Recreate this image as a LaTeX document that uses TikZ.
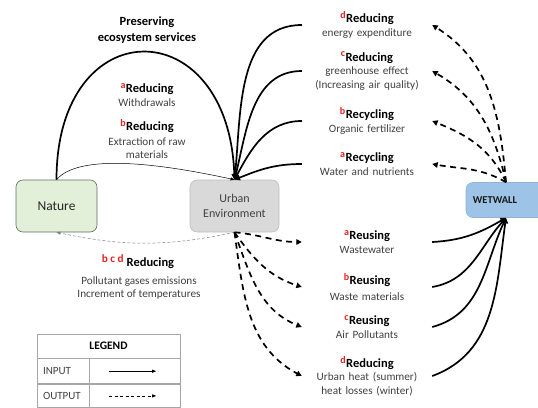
\documentclass[tikz,border=0pt]{standalone}
\usepackage{fontspec}
\setmainfont{Carlito}
\usetikzlibrary{arrows.meta}
\definecolor{natgreen}{HTML}{E2F0D9}
\definecolor{natedge}{HTML}{5E6E5E}
\definecolor{urbgray}{HTML}{D9D9D9}
\definecolor{urbedge}{HTML}{BFBFBF}
\definecolor{wetblue}{HTML}{9DC3E6}
\definecolor{wetedge}{HTML}{8EB4DA}
\definecolor{txtgray}{HTML}{404040}
\definecolor{letred}{HTML}{E8201E}
\newcommand{\head}[2]{{\color{black}\fontsize{12.5}{15}\selectfont\bfseries\textsuperscript{\color{letred}\fontsize{10}{10}\selectfont#1}#2}}
\begin{document}
\begin{tikzpicture}[x=1pt, y=-1pt,
    box/.style={draw, rounded corners=7pt, line width=0.6pt, inner sep=2pt, align=center, text=black!85},
    lbl/.style={inner sep=0pt, align=center, text=txtgray, font=\fontsize{11.2}{13.5}\selectfont},
    lblw/.style={lbl, text width=130pt},
    cell/.style={draw=gray!70, line width=0.7pt, inner sep=0pt, font=\fontsize{11}{13}\selectfont, text=txtgray},
    input/.style={line width=1.7pt, -{Triangle[length=5.5pt,width=5.5pt]}},
    output/.style={input, dash pattern=on 6pt off 4.5pt}]
  \useasboundingbox (0,0) rectangle (538,407);

  \node[box, fill=natgreen, draw=natedge, minimum width=81pt, minimum height=52pt,
    font=\fontsize{13.5}{15}\selectfont] (nature) at (56.5,206) {Nature};
  \node[box, fill=urbgray, draw=urbedge, minimum width=89pt, minimum height=52pt,
    font=\fontsize{12}{15}\selectfont, text=txtgray] (urban) at (234.5,206) {Urban\\Environment};
  \node[box, fill=wetblue, draw=wetedge, minimum width=80pt, minimum height=35pt,
    font=\fontsize{10.5}{12}\selectfont\bfseries, text=black!90] (wetwall) at (506,200) {\hspace*{-22pt}WETWALL};

  \node[lbl, font=\fontsize{12.5}{16}\selectfont\bfseries, text=black] (preserve) at (147,30) {Preserving\\ecosystem services};
  \node[lbl] (withdraw) at (147,95) {\head{a}{Reducing}\\Withdrawals};
  \node[lbl] (extract) at (147,139) {\head{b}{Reducing}\\[1pt]Extraction of raw\\materials};
  \node[lbl] (bcd) at (138,262) {{\color{letred}\bfseries\raisebox{4pt}{b c d}}\ \head{}{Reducing}};
  \node[lbl] (pollut) at (139,288) {Pollutant gases emissions\\Increment of temperatures};

  \node[lblw] (energy) at (367,25) {\head{d}{Reducing}\\energy expenditure};
  \node[lblw] (greenhouse) at (367,71) {\head{c}{Reducing}\\greenhouse effect\\(Increasing air quality)};
  \node[lblw] (fertilizer) at (367,121) {\head{b}{Recycling}\\Organic fertilizer};
  \node[lblw] (water) at (367,164) {\head{a}{Recycling}\\Water and nutrients};

  \node[lblw] (wastewater) at (367,242) {\head{a}{Reusing}\\Wastewater};
  \node[lblw] (wastemat) at (367,287) {\head{b}{Reusing}\\[2pt]Waste materials};
  \node[lblw] (airpoll) at (367,327) {\head{c}{Reusing}\\Air Pollutants};
  \node[lblw] (heat) at (367,376) {\head{d}{Reducing}\\Urban heat (summer)\\heat losses (winter)};

  \draw[input] (nature.north) to[out=90, in=92, looseness=2.45] (urban.north);
  \draw[line width=0.5pt, -{Triangle[length=4pt,width=3pt]}] (nature.north) to[out=50, in=168, looseness=0.6] (urban.north);
  \draw[line width=0.5pt, gray, densely dashed, -{Triangle[length=4pt,width=3pt]}] (urban.south) to[bend left=12] (nature.south);

  \foreach \lbl/\a in {energy/84, greenhouse/76, fertilizer/62, water/22}
    \draw[input] (\lbl.west) to[out=180, in=\a] (urban.north);
  \foreach \lbl/\o/\a in {energy/95/-32, greenhouse/103/-30, fertilizer/115/-22, water/150/-10}
    \draw[output] (wetwall.north) to[out=\o, in=\a] (\lbl.east);
  \foreach \lbl/\o/\a in {wastewater/-5/180, wastemat/-55/162, airpoll/-70/158, heat/-82/152}
    \draw[output] (urban.south) to[out=\o, in=\a] (\lbl.west);
  \foreach \lbl/\o/\a in {wastewater/3/-150, wastemat/10/-132, airpoll/15/-115, heat/20/-98}
    \draw[input] (\lbl.east) to[out=\o, in=\a] (wetwall.south);

  \node[cell, minimum width=143pt, minimum height=24pt, font=\fontsize{11.5}{13}\selectfont\bfseries, text=black]
    (legend) at (108.5,346) {LEGEND};
  \node[cell, anchor=north west, minimum width=52pt, minimum height=25pt, text width=40pt, inner xsep=6pt, align=left]
    (inputtxt) at (legend.south west) {INPUT};
  \node[cell, anchor=north west, minimum width=91pt, minimum height=25pt] (inputarr) at (inputtxt.north east) {};
  \node[cell, anchor=north west, minimum width=52pt, minimum height=23pt, text width=40pt, inner xsep=6pt, align=left]
    (outputtxt) at (inputtxt.south west) {OUTPUT};
  \node[cell, anchor=north west, minimum width=91pt, minimum height=23pt] (outputarr) at (outputtxt.north east) {};
  \draw[line width=0.8pt, -{Triangle[length=4pt,width=3pt]}] ([xshift=-26pt]inputarr.center) -- ([xshift=21pt]inputarr.center);
  \draw[line width=0.8pt, dash pattern=on 3pt off 2.5pt, -{Triangle[length=4pt,width=3pt]}] ([xshift=-26pt]outputarr.center) -- ([xshift=21pt]outputarr.center);
\end{tikzpicture}
\end{document}
